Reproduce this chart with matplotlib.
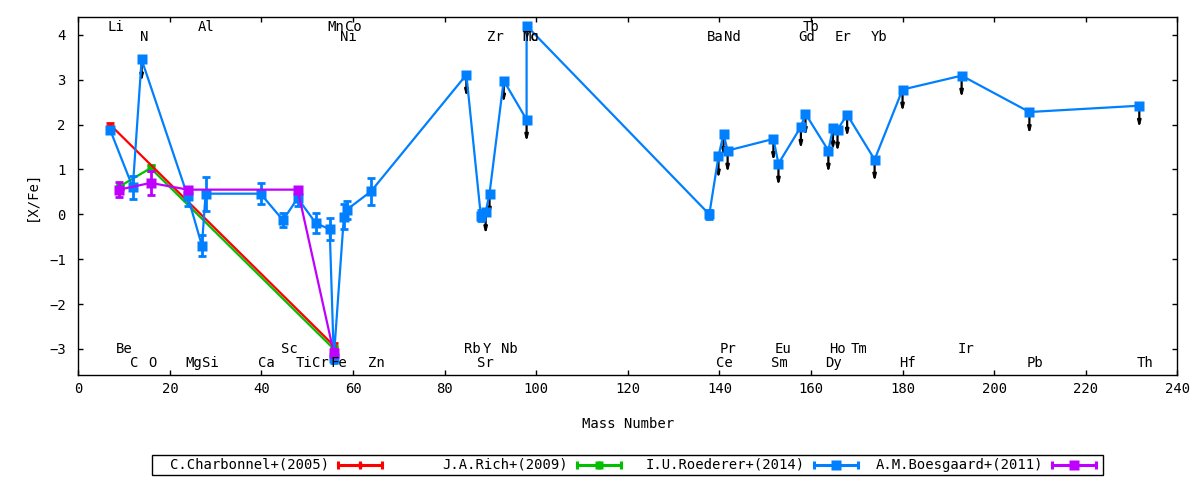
import matplotlib
matplotlib.use('Agg')
import matplotlib.pyplot as plt
from matplotlib.lines import Line2D

plt.rcParams['font.family'] = ['DejaVu Sans Mono', 'DejaVu Sans']
plt.rcParams['font.size'] = 10

# ---------------- data ----------------
charb_x = [6.92, 55.85]
charb_y = [2.00, -2.93]
charb_err = [0.04, 0.06]

rich_x = [9.0, 15.8, 55.8]
rich_y = [0.62, 1.03, -3.00]
rich_err = [0.05, 0.06, 0.06]

roed_x = [6.92, 11.9, 13.83, 23.9, 27.0, 27.8, 39.8, 44.7, 47.9, 51.9, 54.9, 55.8,
          58.0, 58.6, 63.9, 84.75, 87.9, 88.96, 89.8, 92.9, 97.9, 97.9,
          137.8, 139.8, 140.9, 141.8, 151.8, 152.9, 157.8, 158.8, 163.8, 164.8,
          165.8, 167.9, 173.9, 180.0, 192.9, 207.7, 231.7]
roed_y = [1.89, 0.60, 3.45, 0.40, -0.70, 0.46, 0.46, -0.13, 0.36, -0.20, -0.33, -3.20,
          -0.05, 0.10, 0.51, 3.11, -0.03, 0.05, 0.46, 2.98, 2.11, 4.20,
          0.00, 1.29, 1.79, 1.42, 1.68, 1.13, 1.95, 2.24, 1.42, 1.92,
          1.89, 2.22, 1.22, 2.78, 3.09, 2.28, 2.42]
roed_err = [0.03, 0.25, 0.0, 0.22, 0.23, 0.38, 0.24, 0.15, 0.18, 0.22, 0.24, 0.12,
            0.28, 0.20, 0.30, 0.0, 0.12, 0.0, 0.0, 0.0, 0.0, 0.0,
            0.10, 0.0, 0.0, 0.0, 0.0, 0.0, 0.0, 0.0, 0.0, 0.0,
            0.0, 0.0, 0.0, 0.0, 0.0, 0.0, 0.0]
roed_ul = [0, 0, 1, 0, 0, 0, 0, 0, 0, 0, 0, 0,
           0, 0, 0, 1, 0, 1, 1, 1, 1, 0,
           0, 1, 1, 1, 1, 1, 1, 1, 1, 1,
           1, 1, 1, 1, 1, 1, 1]

boes_x = [8.9, 15.8, 23.9, 47.9, 55.8]
boes_y = [0.55, 0.70, 0.55, 0.55, -3.09]
boes_err = [0.17, 0.26, 0.06, 0.06, 0.10]

ul_length = 0.5

# element labels: rows 0 top-upper, 1 top-lower, 2 bottom-upper, 3 bottom-lower
elem_text = ['Li', 'Al', 'Mn', 'Co', 'Tb',
             'N', 'Ni', 'Zr', 'Mo', 'Tc', 'Ba', 'Nd', 'Gd', 'Er', 'Yb',
             'Be', 'Sc', 'Rb', 'Y', 'Nb', 'Pr', 'Eu', 'Ho', 'Tm', 'Ir',
             'C', 'O', 'Mg', 'Si', 'Ca', 'Ti', 'Cr', 'Fe', 'Zn', 'Sr', 'Ce', 'Sm',
             'Dy', 'Hf', 'Pb', 'Th']
elem_x = [8.18, 27.97, 56.3, 60.0, 160.1,
          14.29, 59.0, 91.1, 98.9, 98.9, 139.1, 142.9, 159.0, 167.1, 174.9,
          10.08, 46.15, 86.0, 89.2, 94.1, 141.8, 153.9, 165.9, 170.4, 193.8,
          12.3, 16.26, 25.2, 28.95, 41.1, 49.3, 52.9, 56.8, 65.1, 89.0, 141.0, 153.1,
          165.0, 181.0, 208.9, 232.9]
elem_row = [0] * 5 + [1] * 10 + [2] * 10 + [3] * 16
row_y = [4.17, 3.95, -3.00, -3.32]

series_names = ['C.Charbonnel+(2005)', 'J.A.Rich+(2009)', 'I.U.Roederer+(2014)', 'A.M.Boesgaard+(2011)']
series_colors = ['#ff0000', '#00c000', '#0080ff', '#c000ff']
series_ms = [3, 6, 7, 7]

# ---------------- figure ----------------
W, H = 1200, 480
fig = plt.figure(figsize=(W / 100, H / 100), dpi=100)
ax = fig.add_axes([78.3 / W, 1 - 375 / H, (1177.3 - 78.3) / W, (375 - 17.3) / H])

common = dict(elinewidth=2.0, capsize=3, capthick=2.0, lw=1.6, marker='s', mec='none')
ax.errorbar(rich_x, rich_y, yerr=rich_err, color=series_colors[1], ms=series_ms[1], zorder=3, **common)
ax.errorbar(charb_x, charb_y, yerr=charb_err, color=series_colors[0], ms=series_ms[0], zorder=4, **common)

# upper-limit arrows for Roederer
for x, y, u in zip(roed_x, roed_y, roed_ul):
    if u:
        ax.annotate('', xy=(x, y - ul_length), xytext=(x, y),
                    arrowprops=dict(arrowstyle='-|>,head_length=0.35,head_width=0.09',
                                    color='black', lw=1.6, shrinkA=0, shrinkB=0),
                    zorder=5)

ax.errorbar(roed_x, roed_y, yerr=roed_err, color=series_colors[2], ms=series_ms[2], zorder=6, **common)
ax.errorbar(boes_x, boes_y, yerr=boes_err, color=series_colors[3], ms=series_ms[3], zorder=7, **common)

for t, x, r in zip(elem_text, elem_x, elem_row):
    ax.text(x, row_y[r], t, ha='center', va='center', fontsize=10, zorder=8)

ax.set_xlim(0, 240)
ax.set_ylim(-3.58, 4.39)
ax.set_xticks(range(0, 241, 20))
ax.set_yticks(range(-3, 5))
ax.tick_params(direction='in', top=True, right=True, length=3.3, width=1.0, labelsize=10)
ax.tick_params(axis='y', pad=9)
ax.tick_params(axis='x', pad=5)
for s in ax.spines.values():
    s.set_linewidth(1.0)

fig.text(628 / W, 1 - 424 / H, 'Mass Number', ha='center', va='center', fontsize=10)
fig.text(32 / W, 1 - 196 / H, '[X/Fe]', ha='center', va='center', rotation=90, fontsize=10)

# ---------------- legend (gnuplot style, text then sample) ----------------
box = plt.Rectangle((151.7 / W, 1 - 475 / H), (1103 - 151.7) / W, 20 / H,
                    transform=fig.transFigure, fill=False, ec='black', lw=1.0)
fig.add_artist(box)
sample_start = [338, 577, 814, 1052]
sample_len = 44
ly = 1 - 465 / H
for name, c, ms, sx in zip(series_names, series_colors, series_ms, sample_start):
    fig.text((sx - 9) / W, ly, name, ha='right', va='center', fontsize=10)
    x1, x2 = sx / W, (sx + sample_len) / W
    fig.add_artist(Line2D([x1, x2], [ly, ly], transform=fig.transFigure, color=c, lw=2.2))
    fig.add_artist(Line2D([x1, x2], [ly, ly], transform=fig.transFigure, color=c, lw=0,
                          marker='|', ms=6, mew=2.2))
    fig.add_artist(Line2D([(x1 + x2) / 2], [ly], transform=fig.transFigure, color=c, lw=0,
                          marker='s', ms=ms, mec='none'))
    fig.add_artist(Line2D([(x1 + x2) / 2], [ly], transform=fig.transFigure, color=c, lw=0,
                          marker='|', ms=6, mew=2.2))

fig.savefig('out.png', dpi=100)
